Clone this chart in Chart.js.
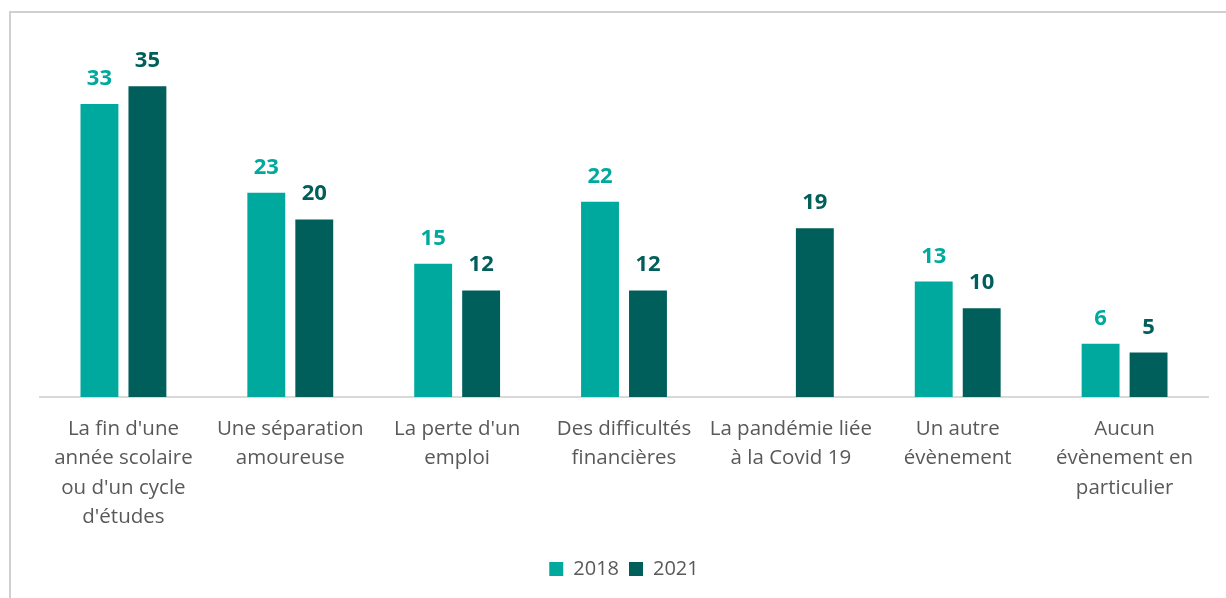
<!DOCTYPE html>
<html><head><meta charset="utf-8">
<script src="https://cdn.jsdelivr.net/npm/chart.js@4.4.1/dist/chart.umd.min.js"></script>
<style>
html,body{margin:0;padding:0;background:#fff;}
#wrap{position:relative;width:1226px;height:598px;}
#frame{position:absolute;left:9px;top:11px;right:-5px;bottom:-5px;border-left:2px solid #d0d0d0;border-top:2px solid #d0d0d0;pointer-events:none;}
canvas{position:absolute;left:0;top:0;}
</style></head>
<body><div id="wrap"><canvas id="c" width="1226" height="598"></canvas><div id="frame"></div></div>
<script>
const categories = [
  ["La fin d'une","année scolaire","ou d'un cycle","d'études"],
  ["Une séparation","amoureuse"],
  ["La perte d'un","emploi"],
  ["Des difficultés","financières"],
  ["La pandémie liée","à la Covid 19"],
  ["Un autre","évènement"],
  ["Aucun","évènement en","particulier"]
];
const seriesNames = ["2018","2021"];
const values2018 = [33,23,15,22,null,13,6];
const values2021 = [35,20,12,12,19,10,5];
const colors = ["#00A99D","#005F5A"];

const labelPlugin = {
  id:'valLabels',
  afterDatasetsDraw(chart){
    const ctx = chart.ctx;
    ctx.save();
    ctx.font = 'bold 22px "Open Sans", sans-serif';
    ctx.textAlign = 'center';
    ctx.textBaseline = 'alphabetic';
    chart.data.datasets.forEach((ds,i)=>{
      const meta = chart.getDatasetMeta(i);
      ctx.fillStyle = ds.backgroundColor;
      meta.data.forEach((bar,j)=>{
        const v = ds.data[j];
        if(v===null||v===undefined) return;
        ctx.fillText(String(v), bar.x, bar.y-19);
      });
    });
    ctx.restore();
  }
};

new Chart(document.getElementById('c'),{
  type:'bar',
  data:{
    labels:categories,
    datasets:[
      {label:seriesNames[0],data:values2018,backgroundColor:colors[0],categoryPercentage:0.575,barPercentage:0.79},
      {label:seriesNames[1],data:values2021,backgroundColor:colors[1],categoryPercentage:0.575,barPercentage:0.79}
    ]
  },
  options:{
    responsive:false,
    animation:false,
    layout:{padding:{left:40,right:18,top:42,bottom:9}},
    plugins:{
      legend:{position:'bottom',labels:{boxWidth:14,boxHeight:14,padding:10,color:'#595959',font:{size:20,family:'"Open Sans", sans-serif'}}},
      tooltip:{enabled:false}
    },
    scales:{
      y:{display:false,min:0,max:40},
      x:{
        grid:{display:false,drawTicks:false},
        border:{display:true,color:'#d9d9d9',width:2},
        ticks:{color:'#595959',padding:17,maxRotation:0,autoSkip:false,font:{size:20.5,family:'"Open Sans", sans-serif',lineHeight:1.44}}
      }
    }
  },
  plugins:[labelPlugin]
});
</script></body></html>
